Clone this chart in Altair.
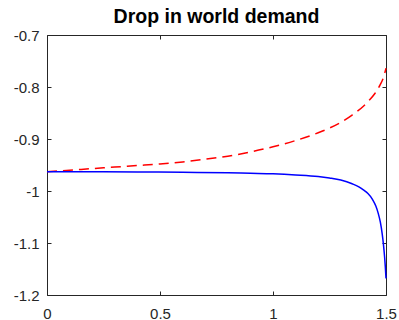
import altair as alt
import pandas as pd

# ---- data ----
title_text = "Drop in world demand"

red_x = [0, 0.1, 0.2, 0.3, 0.4, 0.5, 0.6, 0.7, 0.8, 0.9, 1.0, 1.1, 1.2, 1.25,
         1.3, 1.35, 1.4, 1.425, 1.45, 1.475, 1.49, 1.5]
red_y = [-0.963, -0.960, -0.957, -0.954, -0.951, -0.948, -0.944, -0.939, -0.933,
         -0.925, -0.915, -0.903, -0.888, -0.879, -0.868, -0.854, -0.837, -0.826,
         -0.813, -0.795, -0.780, -0.764]

blue_x = [0, 0.2, 0.4, 0.6, 0.8, 0.9, 1.0, 1.1, 1.2, 1.25, 1.3, 1.35, 1.38, 1.4,
          1.42, 1.44, 1.455, 1.465, 1.475, 1.483, 1.489, 1.494, 1.497, 1.5]
blue_y = [-0.963, -0.963, -0.9635, -0.964, -0.965, -0.966, -0.967, -0.969, -0.972,
          -0.975, -0.979, -0.986, -0.992, -0.998, -1.005, -1.016, -1.029, -1.042,
          -1.060, -1.082, -1.104, -1.128, -1.146, -1.168]

x_ticks = [0, 0.5, 1, 1.5]
y_ticks = [-1.2, -1.1, -1, -0.9, -0.8, -0.7]

red_df = pd.DataFrame({"x": red_x, "y": red_y})
blue_df = pd.DataFrame({"x": blue_x, "y": blue_y})

AX = "#262626"
FONT = "Liberation Sans"

xscale = alt.Scale(domain=[0, 1.5], nice=False, zero=False)
yscale = alt.Scale(domain=[-1.2, -0.7], nice=False, zero=False)

common = dict(grid=False, domain=False, ticks=True, tickSize=4, tickColor=AX,
              tickWidth=1, labelFont=FONT, labelFontSize=15, labelColor=AX,
              title=None, offset=-4, labelFlush=False, labelOverlap=False,
              labelBound=False)

x_bottom = alt.Axis(orient="bottom", values=x_ticks, labelExpr="'' + datum.value",
                    labelPadding=11, **common)
x_top = alt.Axis(orient="top", values=x_ticks, labels=False, **common)
y_left = alt.Axis(orient="left", values=y_ticks, labelExpr="'' + datum.value",
                  labelPadding=8, **common)
y_right = alt.Axis(orient="right", values=y_ticks, labels=False, **common)

red = alt.Chart(red_df).mark_line(
    color="#ff0000", strokeDash=[10, 6], strokeWidth=1.5, interpolate="monotone"
).encode(
    x=alt.X("x:Q", scale=xscale, axis=x_bottom),
    y=alt.Y("y:Q", scale=yscale, axis=y_left),
)

blue = alt.Chart(blue_df).mark_line(
    color="#0000ff", strokeWidth=1.5, interpolate="monotone"
).encode(
    x=alt.X("x:Q", scale=xscale, axis=x_top),
    y=alt.Y("y:Q", scale=yscale, axis=y_right),
)

chart = alt.layer(red, blue).resolve_axis(
    x="independent", y="independent"
).properties(
    width=339,
    height=260,
    autosize=alt.AutoSizeParams(type="none"),
    padding={"left": 47, "top": 35, "right": 13, "bottom": 25},
    title=alt.TitleParams(text=title_text, font=FONT, fontSize=19.5, fontWeight="bold",
                          color="black", anchor="middle", baseline="alphabetic",
                          offset=-14, frame="group"),
).configure_view(stroke=AX, strokeWidth=1)

chart.save("out.html", embed_options={"renderer": "svg", "actions": False})
